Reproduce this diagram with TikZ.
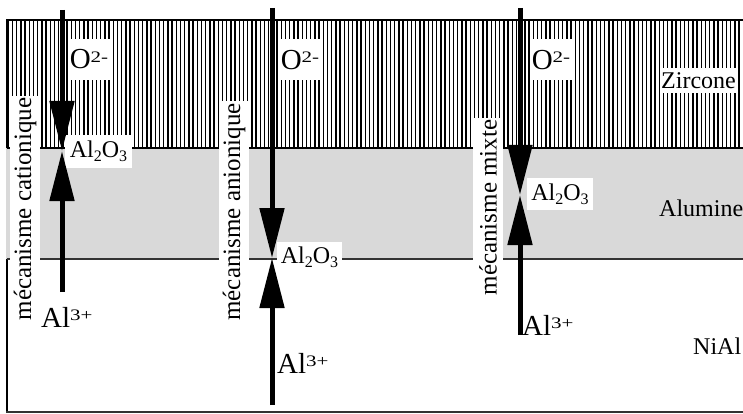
\documentclass[tikz,border=0pt]{standalone}
\usepackage{fontspec}
\usepackage{graphicx}
\setmainfont{Liberation Serif}
\usetikzlibrary{arrows.meta}
\definecolor{alum}{HTML}{D9D9D9}
\definecolor{edgegray}{HTML}{333333}
\newcommand\supsc[1]{\raisebox{6.5pt}{\scalebox{1.05}[0.8]{\fontsize{20}{20}\selectfont #1}}}
\newcommand\subsc[1]{\raisebox{-4pt}{\fontsize{16}{16}\selectfont #1}}
\newcommand\ionO{{\fontsize{29}{29}\selectfont O}\supsc{2-}}
\newcommand\ionAl{{\fontsize{29}{29}\selectfont Al}\supsc{3+}}
\newcommand\alox{Al\subsc{2}O\subsc{3}}
\tikzset{
  hatchline/.style={line width=1.4pt, black},
  border/.style={line width=2pt},
  mech/.style={rotate=90, fill=white, inner xsep=2pt, inner ysep=0pt, minimum height=30pt, font=\fontsize{25}{25}\selectfont},
  oxbox/.style={fill=white, inner sep=0pt, font=\fontsize{24}{24}\selectfont},
  ionbox/.style={fill=white, inner sep=0pt, minimum width=42pt, minimum height=41pt},
  plain/.style={inner sep=0pt, anchor=base west, font=\fontsize{24}{24}\selectfont},
  ion/.style={line width=5pt, -{Triangle[length=50pt,width=24pt]}}
}
\begin{document}
\begin{tikzpicture}[x=1pt,y=-1pt]
\useasboundingbox (0,0) rectangle (743,414);
% left border (under the layers)
\draw[border] (7,20) -- (7,411.5);
% alumina layer
\fill[alum] (6,148) rectangle (743,259);
% zirconia hatch
\foreach \i in {0,...,174} \draw[hatchline] ({8.3+4.2*\i},20) -- ({8.3+4.2*\i},148);
% interfaces
\draw[border] (6,20) -- (743,20);
\draw[border] (7,148) -- (743,148);
\draw[border, edgegray] (7,259) -- (743,259);
\draw[border, edgegray] (6,411.5) -- (743,411.5);
% layer names
\node[oxbox, minimum width=77pt, minimum height=25pt] (zirc) at (698.5,80.5) {Zircone};
\node[plain] (alum) at (659,216) {Alumine};
\node[plain] (nial) at (693,354) {NiAl};
% mechanism labels
\node[mech] (m1) at (25,209) {mécanisme cationique};
\node[mech] (m2) at (234,212) {mécanisme anionique};
\node[mech] (m3) at (488,207.5) {mécanisme mixte};
% ion labels
\node[ionbox] (o1) at (89,59.5) {\ionO};
\node[ionbox] (o2) at (300,60) {\ionO};
\node[ionbox] (o3) at (551,60) {\ionO};
\node[oxbox, minimum width=67pt, minimum height=33pt] (ox1) at (98.5,151.5) {\alox};
\node[oxbox, minimum width=65pt, minimum height=30pt] (ox2) at (309.5,257) {\alox};
\node[oxbox, minimum width=66pt, minimum height=32pt] (ox3) at (560,194) {\alox};
\node[inner sep=0pt, anchor=base west] (a1) at (41,327) {\ionAl};
\node[inner sep=0pt, anchor=base west] (a2) at (277,373) {\ionAl};
\node[inner sep=0pt, anchor=base west] (a3) at (522,335) {\ionAl};
% arrows
\coordinate (t1) at (62,10);  \coordinate (c1) at (62,151);  \coordinate (b1) at (62,292);
\coordinate (t2) at (272,8);  \coordinate (c2) at (272,258); \coordinate (b2) at (272,405);
\coordinate (t3) at (520,8);  \coordinate (c3) at (520,195); \coordinate (b3) at (520,335);
\draw[ion] (t1) -- (c1); \draw[ion] (b1) -- (c1);
\draw[ion] (t2) -- (c2); \draw[ion] (b2) -- (c2);
\draw[ion] (t3) -- (c3); \draw[ion] (b3) -- (c3);
\end{tikzpicture}
\end{document}
